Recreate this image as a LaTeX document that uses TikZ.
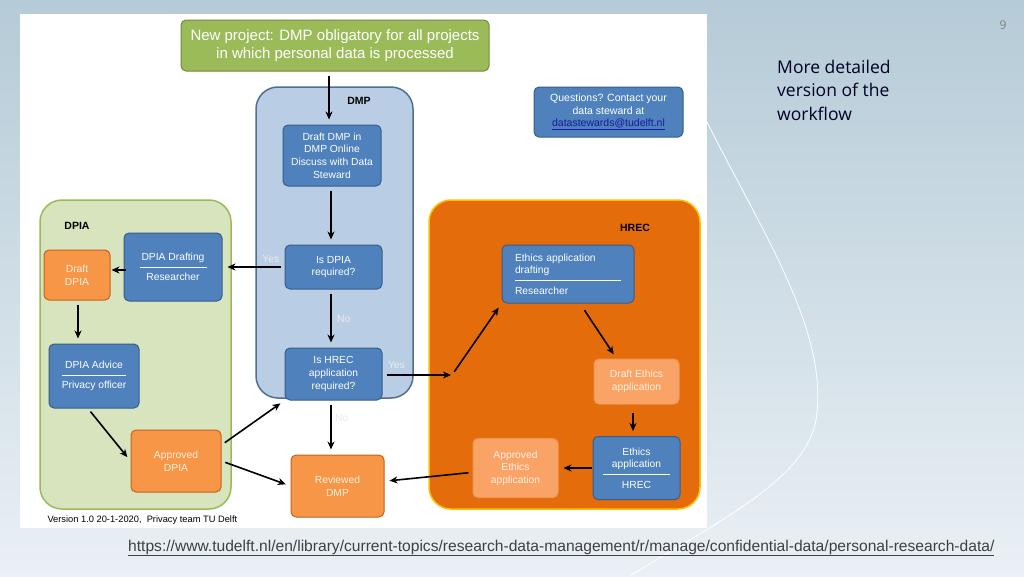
\documentclass[tikz,border=0pt]{standalone}
\usepackage{fontspec}
\setmainfont{Liberation Sans}
\newfontfamily\slidefont{Open Sans}
\usetikzlibrary{positioning,calc,arrows.meta}

\definecolor{slidetop}{HTML}{B5CBD7}
\definecolor{slidebottom}{HTML}{EAF0F5}
\definecolor{projgreen}{HTML}{9BBB59}
\definecolor{projedge}{HTML}{71893F}
\definecolor{dmpfill}{HTML}{B9CDE5}
\definecolor{dmpedge}{HTML}{4F6F95}
\definecolor{dpiafill}{HTML}{D7E4BD}
\definecolor{hrecfill}{HTML}{E46C0A}
\definecolor{hrecedge}{HTML}{FFC000}
\definecolor{boxblue}{HTML}{4F81BD}
\definecolor{boxedge}{HTML}{385D8A}
\definecolor{boxorange}{HTML}{F79646}
\definecolor{orangeedge}{HTML}{C0631F}
\definecolor{paleorange}{HTML}{F9A466}
\definecolor{linkblue}{HTML}{1A1AA0}

\newcommand{\splitline}[1]{\\[-3pt]\textcolor{white}{\rule[3pt]{#1}{0.6pt}}\\[-2pt]}

\begin{document}
\begin{tikzpicture}[
    x=1pt, y=-1pt,
    zone/.style={rectangle, draw, rounded corners=22pt, line width=1.5pt},
    zonelabel/.style={font=\bfseries\fontsize{10.5}{12}\selectfont},
    bluebox/.style={rectangle, draw=boxedge, fill=boxblue, rounded corners=5pt,
                    line width=1pt, text=white, align=center, inner sep=2pt,
                    font=\fontsize{10.3}{12.6}\selectfont},
    orangebox/.style={bluebox, draw=orangeedge, fill=boxorange, text=white!88!orange},
    paleorangebox/.style={orangebox, draw=paleorange!80!orangeedge, fill=paleorange},
    arrow/.style={-{Stealth[length=8pt,width=7pt]}, line width=1.6pt,
                  shorten >=5pt, shorten <=4pt},
    answer/.style={text=white!85!gray, font=\fontsize{10.3}{12}\selectfont}
]
\useasboundingbox (0,0) rectangle (1024,576);
\shade[top color=slidetop, bottom color=slidebottom] (0,0) rectangle (1024,576);
% white swoosh behind the chart
\draw[white, line width=0.8pt] (700,108) .. controls (760,230) and (830,330) .. (816,420)
    .. controls (805,480) and (720,520) .. (630,576);
\fill[white] (20,14) rectangle (707,528);

% containers
\node[zone, draw=dmpedge, fill=dmpfill, minimum width=157pt, minimum height=311pt]
    (dmpzone) at (334.5,242.5) {};
\node[zone, draw=projgreen, fill=dpiafill, minimum width=191pt, minimum height=309pt]
    (dpiazone) at (135.5,354.5) {};
\node[zone, draw=hrecedge, fill=hrecfill, minimum width=271pt, minimum height=309pt]
    (hreczone) at (564.5,354.5) {};
\node[zonelabel] (dmplabel) at (359,101) {DMP};
\node[zonelabel] (dpialabel) at (77,226) {DPIA};
\node[zonelabel] (hreclabel) at (635,228) {HREC};

% DMP column
\node[bluebox, draw=projedge, fill=projgreen, minimum width=308pt, minimum height=51pt,
      font=\fontsize{15}{18}\selectfont] (newproj) at (335,45.5)
    {New project: DMP obligatory for all projects\\in which personal data is processed};
\node[bluebox, minimum width=98pt, minimum height=61pt] (draftdmp) at (332,155.5)
    {Draft DMP in\\DMP Online\\Discuss with Data\\Steward};
\node[bluebox, minimum width=97pt, minimum height=44pt] (isdpia) at (333.5,267)
    {Is DPIA\\required?};
\node[bluebox, minimum width=97pt, minimum height=52pt] (ishrec) at (333.5,374)
    {Is HREC\\application\\required?};
\node[orangebox, minimum width=93pt, minimum height=62pt] (reviewed) at (337.5,486)
    {Reviewed\\DMP};
\node[bluebox, minimum width=149pt, minimum height=50pt,
      font=\fontsize{10.5}{12.5}\selectfont] (questions) at (608.5,112)
    {Questions? Contact your\\data steward at\\
     \textcolor{linkblue}{\underline{datastewards@tudelft.nl}}};

% DPIA side
\node[bluebox, minimum width=98pt, minimum height=68pt] (dpiadraft) at (173,267)
    {DPIA Drafting\splitline{67pt}Researcher};
\node[orangebox, minimum width=66pt, minimum height=50pt] (draftdpia) at (77,275)
    {Draft\\DPIA};
\node[bluebox, minimum width=90pt, minimum height=64pt] (dpiaadvice) at (94,376)
    {DPIA Advice\splitline{64pt}Privacy officer};
\node[orangebox, minimum width=90pt, minimum height=62pt] (approveddpia) at (176,461)
    {Approved\\DPIA};

% HREC side
\node[bluebox, align=left, text width=106pt, inner xsep=13pt, minimum height=58pt]
    (ethicsdraft) at (568,274)
    {Ethics application\\drafting\splitline{106pt}Researcher};
\node[paleorangebox, minimum width=85pt, minimum height=45pt] (draftethics) at (636.5,381.5)
    {Draft Ethics\\application};
\node[bluebox, minimum width=87pt, minimum height=63pt] (ethicsapp) at (636.5,468)
    {Ethics\\application\splitline{67pt}HREC};
\node[paleorangebox, minimum width=85pt, minimum height=59pt] (approvedethics) at (515.5,468)
    {Approved\\Ethics\\application};
\coordinate (hrecin) at (452,375);

% connectors
\draw[arrow] (newproj.south -| 329,0) -- (329,0 |- draftdmp.north);
\draw[arrow] (draftdmp.south -| 331,0) -- (331,0 |- isdpia.north);
\draw[arrow] (isdpia) -- node[answer, pos=0.22, above] {Yes} (dpiadraft);
\draw[arrow] (isdpia.south -| 331,0) -- node[answer, right, xshift=2pt] {No} (331,0 |- ishrec.north);
\draw[arrow] (ishrec.south -| 331,0) -- node[answer, right, pos=0.33] {No} (331,0 |- reviewed.north);
\draw[arrow, shorten >=1pt] (ishrec.east |- hrecin) -- node[answer, pos=0.2, above, yshift=2pt] {Yes} (hrecin);
\draw[arrow] (hrecin) -- (ethicsdraft.south west);
\draw[arrow, shorten <=-2pt, shorten >=1pt] (dpiadraft.west |- 0,270) -- (draftdpia.east |- 0,270);
\draw[arrow] (78,0 |- draftdpia.south) -- (78,0 |- dpiaadvice.north);
\draw[arrow] ([xshift=-6pt]dpiaadvice.south) -- (approveddpia.west);
\draw[arrow] ([yshift=16pt]approveddpia.east) -- (ishrec.south west);
\draw[arrow] (approveddpia.east) -- (reviewed.west);
\draw[arrow, shorten <=8pt] ([xshift=12pt]ethicsdraft.south) -- ([xshift=-20pt]draftethics.north);
\draw[arrow, shorten <=8pt] (633,0 |- draftethics.south) -- (633,0 |- ethicsapp.north);
\draw[arrow, shorten <=1pt] (ethicsapp) -- (approvedethics);
\draw[arrow] (approvedethics) -- (reviewed);

% slide texts
\node[anchor=west, font=\fontsize{9.3}{11}\selectfont] (version) at (44,520)
    {Version 1.0 20-1-2020,\ \ Privacy team TU Delft};
\node[anchor=north west, align=left, text=black!85!blue, inner sep=0pt,
      font=\slidefont\fontsize{17.5}{23.5}\selectfont] (subtitle) at (777,60)
    {More detailed\\version of the\\workflow};
\node[text=gray, font=\slidefont\fontsize{12}{14}\selectfont] (pagenum) at (1003,25) {9};
\node[anchor=west, text=black!75, inner sep=0pt, font=\fontsize{15.6}{18}\selectfont]
    (sourceurl) at (128,548)
    {\underline{https://www.tudelft.nl/en/library/current-topics/research-data-management/r/manage/confidential-data/personal-research-data/}};
\end{tikzpicture}
\end{document}
